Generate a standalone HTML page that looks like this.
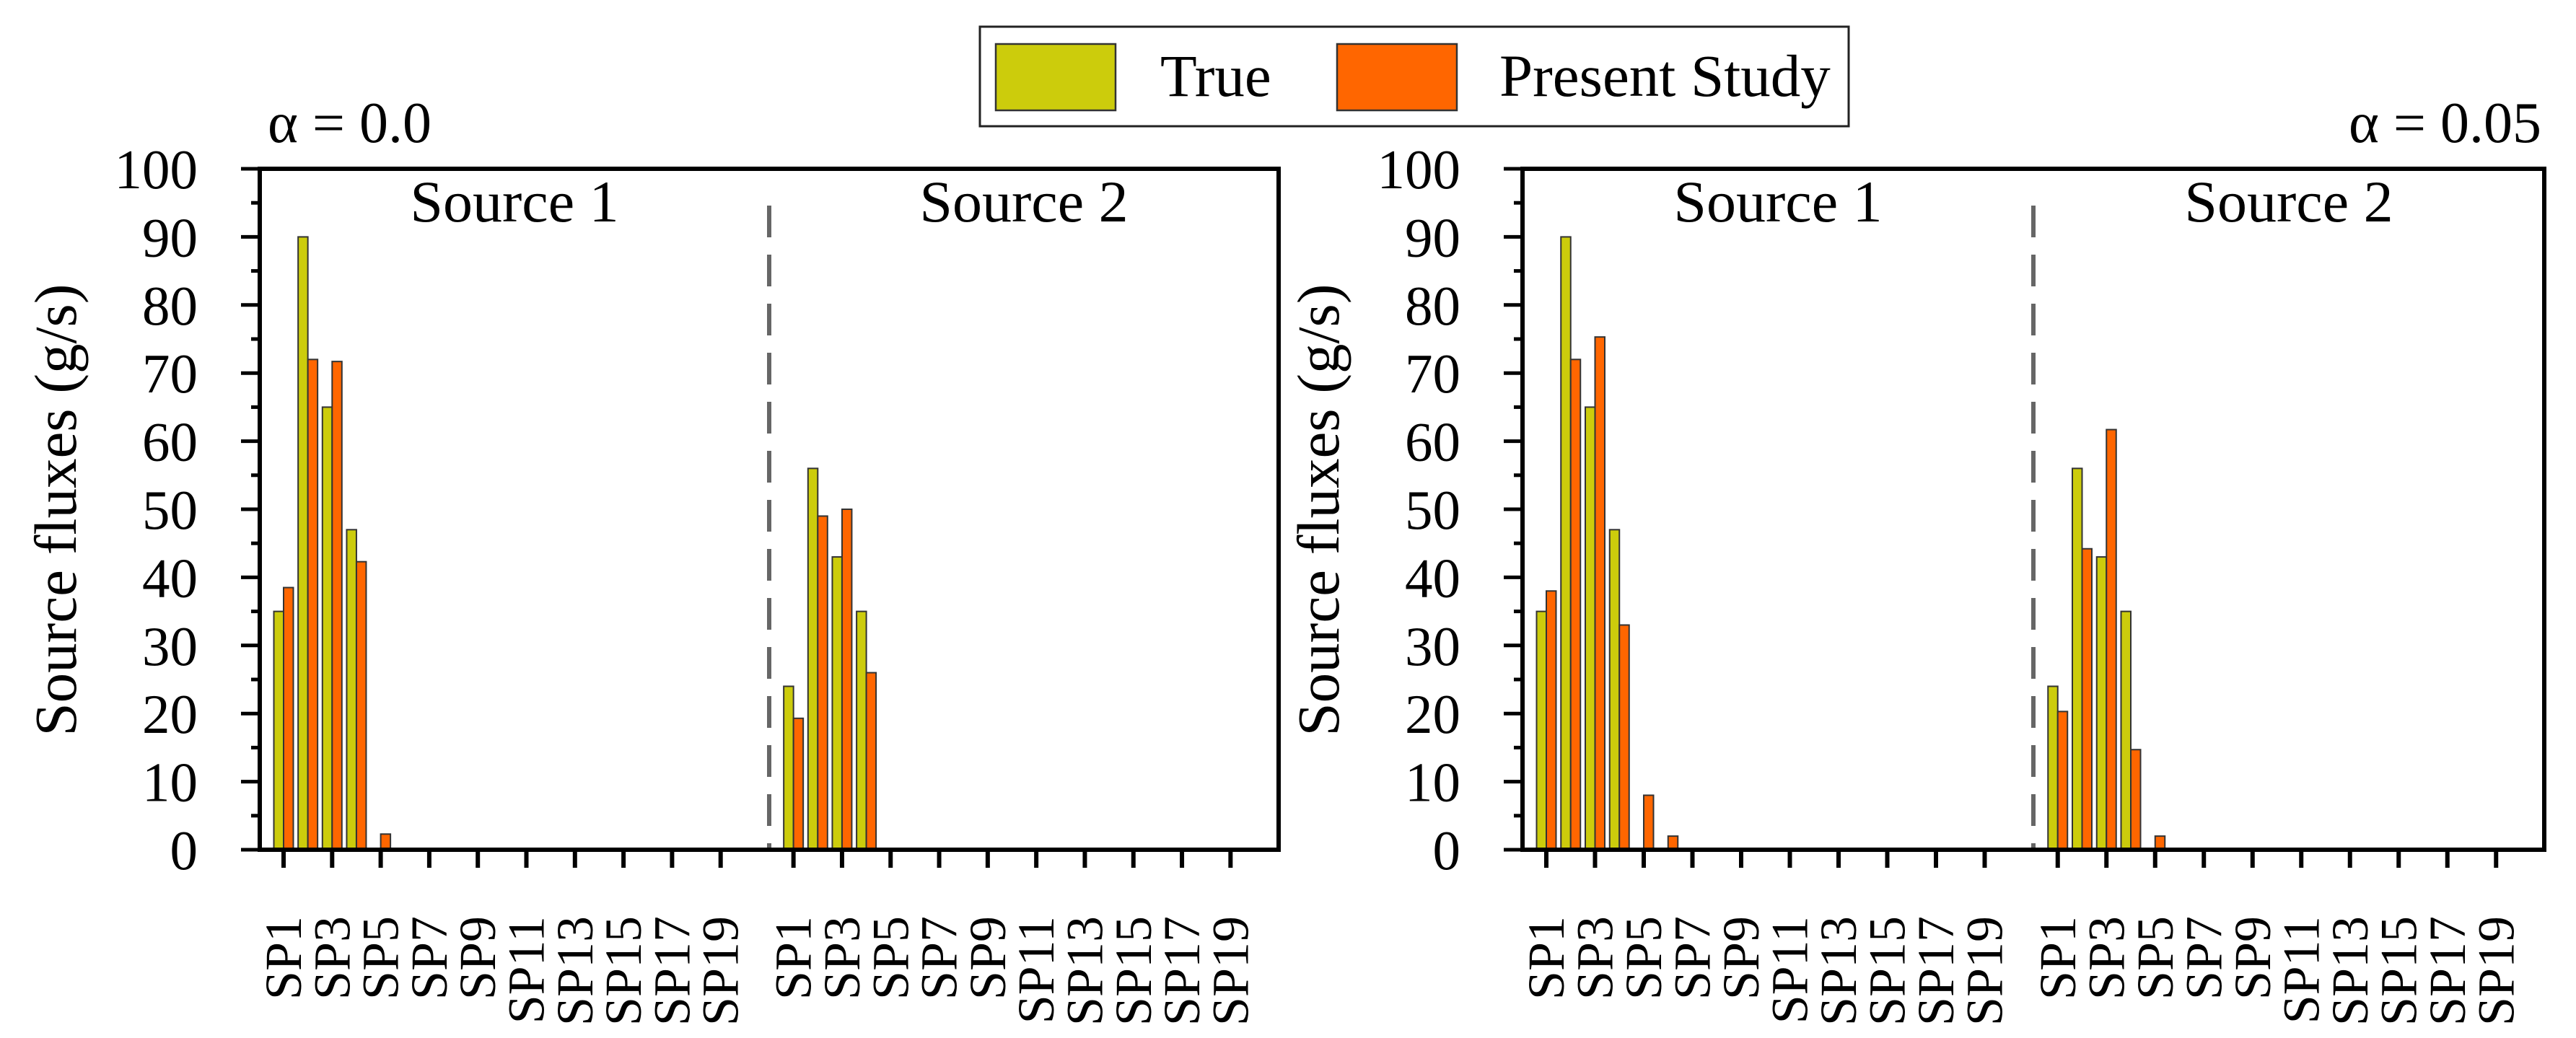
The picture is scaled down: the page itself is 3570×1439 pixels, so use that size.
<!DOCTYPE html>
<html><head><meta charset="utf-8"><style>
html,body{margin:0;padding:0;background:#fff;}
svg{display:block;font-family:"Liberation Serif",serif;}
</style></head><body>
<svg id="chart" width="3570" height="1439" viewBox="0 0 3570 1439" xmlns="http://www.w3.org/2000/svg">
<g>
<rect x="1358" y="37" width="1204" height="138" fill="#fff" stroke="#222" stroke-width="3"/>
<rect x="1380" y="61" width="166" height="92" fill="#CCCC0C" stroke="#333" stroke-width="2.5"/>
<text x="1608" y="133" font-size="83">True</text>
<rect x="1853" y="61" width="166" height="92" fill="#FF6600" stroke="#333" stroke-width="2.5"/>
<text x="2078" y="133" font-size="83">Present Study</text>
</g>
</svg>
<script>
const categories = ["SP1","SP2","SP3","SP4","SP5","SP6","SP7","SP8","SP9","SP10","SP11","SP12","SP13","SP14","SP15","SP16","SP17","SP18","SP19","SP20"];
const yTicks = [0,10,20,30,40,50,60,70,80,90,100];
const a0_s1_true = [35,90,65,47,0,0,0,0,0,0,0,0,0,0,0,0,0,0,0,0];
const a0_s1_present = [38.5,72,71.7,42.3,2.3,0,0,0,0,0,0,0,0,0,0,0,0,0,0,0];
const a0_s2_true = [24,56,43,35,0,0,0,0,0,0,0,0,0,0,0,0,0,0,0,0];
const a0_s2_present = [19.3,49,50,26,0,0,0,0,0,0,0,0,0,0,0,0,0,0,0,0];
const a5_s1_true = [35,90,65,47,0,0,0,0,0,0,0,0,0,0,0,0,0,0,0,0];
const a5_s1_present = [38,72,75.3,33,8,2,0,0,0,0,0,0,0,0,0,0,0,0,0,0];
const a5_s2_true = [24,56,43,35,0,0,0,0,0,0,0,0,0,0,0,0,0,0,0,0];
const a5_s2_present = [20.3,44.2,61.7,14.7,2,0,0,0,0,0,0,0,0,0,0,0,0,0,0,0];

const NS = "http://www.w3.org/2000/svg";
const svg = document.getElementById("chart");
function mk(tag, attrs, parent){ const e=document.createElementNS(NS,tag); for(const k in attrs) e.setAttribute(k,attrs[k]); (parent||svg).appendChild(e); return e; }

function panel(p){
  const g = mk("g",{});
  
  
  const top=234, bot=1178;
  const y = v => bot - (v/100)*(bot-top);
  const step = (p.right - p.left - 66)/40;
  const x = k => p.left + 33 + k*step;
  const bw = 13.5;
  const groups = [[p.s1t,p.s1p,0],[p.s2t,p.s2p,21]];
  groups.forEach((gr,gi)=>{
    categories.forEach((c,i)=>{
      const cx = x(gr[2]+i);
      if(gr[0][i]>0){
        const r = mk("rect",{x:cx-bw,y:y(gr[0][i]),width:bw,height:bot-y(gr[0][i]),fill:"#CCCC0C",stroke:"#333","stroke-width":2},g);
        
        
      }
      if(gr[1][i]>0){
        const r = mk("rect",{x:cx,y:y(gr[1][i]),width:bw,height:bot-y(gr[1][i]),fill:"#FF6600",stroke:"#333","stroke-width":2},g);
        
        
      }
      if(i%2===0){
        mk("line",{x1:cx,x2:cx,y1:bot,y2:bot+25,stroke:"#000","stroke-width":6},g);
        const t = mk("text",{x:0,y:0,"font-size":72,"text-anchor":"end",transform:"translate("+(cx+24)+",1270) rotate(-90)"},g);
        t.textContent = c;
        
        
      }
    });
  });
  const d = mk("line",{x1:x(20),x2:x(20),y1:285,y2:bot,stroke:"#666","stroke-width":6,"stroke-dasharray":"44 24"},g);
  
  
  const f = mk("rect",{x:p.left,y:top,width:p.right-p.left,height:bot-top,fill:"none",stroke:"#000","stroke-width":6},g);
  
  
  yTicks.forEach(v=>{
    mk("line",{x1:p.left-26,x2:p.left,y1:y(v),y2:y(v),stroke:"#000","stroke-width":5},g);
    if(v<100) mk("line",{x1:p.left-12,x2:p.left,y1:y(v+5),y2:y(v+5),stroke:"#000","stroke-width":5},g);
    const t = mk("text",{x:p.left-86,y:y(v)+27,"font-size":77,"text-anchor":"end"},g);
    t.textContent = v;
    
    
  });
  const yt = mk("text",{x:0,y:0,"font-size":83,"text-anchor":"middle",transform:"translate("+(p.left-255)+",707) rotate(-90)"},g);
  yt.textContent = "Source fluxes (g/s)";
  
  
  const s1 = mk("text",{x:(p.left+x(20))/2,y:307,"font-size":82,"text-anchor":"middle"},g);
  s1.textContent = "Source 1";
  
  
  const s2 = mk("text",{x:(p.right+x(20))/2,y:307,"font-size":82,"text-anchor":"middle"},g);
  s2.textContent = "Source 2";
  
  
  const al = mk("text",{x:p.alphaX,y:197,"font-size":80,"text-anchor":p.alphaAnchor},g);
  al.textContent = p.alpha;
  
  
}
panel({name:"panel-alpha-0",left:360,right:1772,s1t:a0_s1_true,s1p:a0_s1_present,s2t:a0_s2_true,s2p:a0_s2_present,alpha:"α = 0.0",alphaX:371,alphaAnchor:"start"});
panel({name:"panel-alpha-005",left:2110,right:3526,s1t:a5_s1_true,s1p:a5_s1_present,s2t:a5_s2_true,s2p:a5_s2_present,alpha:"α = 0.05",alphaX:3522,alphaAnchor:"end"});
</script>
</body></html>
